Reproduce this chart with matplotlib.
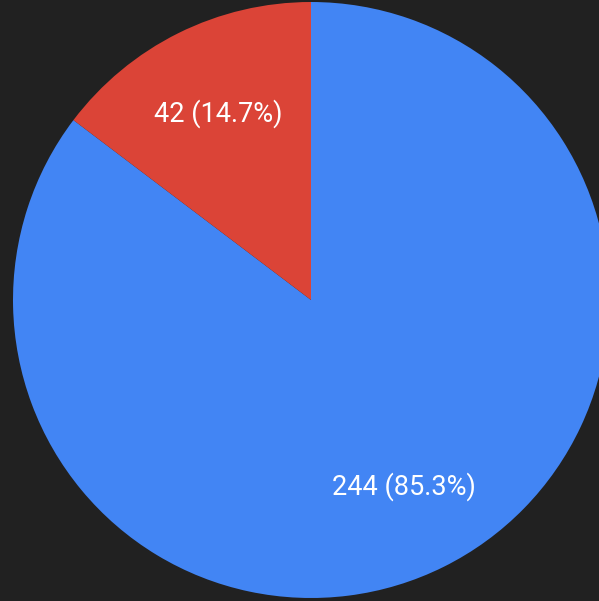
import matplotlib.pyplot as plt
import matplotlib

matplotlib.rcParams['font.family'] = ['Roboto', 'DejaVu Sans']

# data
labels = ['A', 'B']
values = [244, 42]
colors = ['#4285F4', '#DB4437']
bg = '#212121'

W, H = 599, 601
fig = plt.figure(figsize=(W / 100, H / 100), dpi=100, facecolor=bg)
ax = fig.add_axes([0, 0, 1, 1])
ax.set_facecolor(bg)

total = sum(values)


def fmt(pct):
    n = int(round(pct * total / 100.0))
    return '%d (%.1f%%)' % (n, pct)


wedges, texts, autotexts = ax.pie(values, colors=colors, startangle=90, counterclock=False,
                                  center=(311, H - 300), radius=298, autopct=fmt,
                                  pctdistance=0.7, textprops={'color': 'white', 'fontsize': 19.5},
                                  wedgeprops={'linewidth': 0})
ax.set_xlim(0, W)
ax.set_ylim(0, H)
ax.axis('off')

plt.savefig('out.png', dpi=100, facecolor=bg)
